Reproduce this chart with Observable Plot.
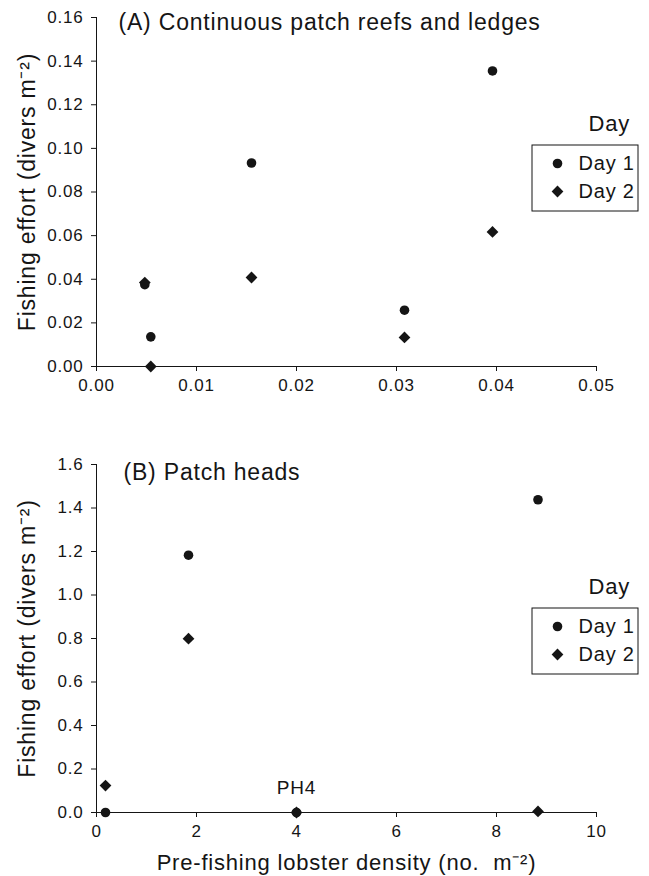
<!DOCTYPE html>
<html><head><meta charset="utf-8">
<script src="https://cdn.jsdelivr.net/npm/d3@7"></script>
<script src="https://cdn.jsdelivr.net/npm/@observablehq/plot@0.6"></script>
<style>
body{margin:0;background:#fff;}
#chart{width:649px;}
#chart svg{display:block;overflow:visible;}
</style></head><body><div id="chart"></div>
<script>
// ---- data ----
const days = ["Day 1", "Day 2"];
const densityA = [0.00483, 0.00543, 0.0155, 0.0308, 0.0396];
const effortA_day1 = [0.0375, 0.0136, 0.0933, 0.0258, 0.1355];
const effortA_day2 = [0.0385, 0.0, 0.0408, 0.0133, 0.0617];
const densityB = [0.18, 1.84, 4.0, 8.83];
const effortB_day1 = [0.0, 1.183, 0.0, 1.438];
const effortB_day2 = [0.124, 0.799, 0.0, 0.005];
const ticksA_x = [0, 0.01, 0.02, 0.03, 0.04, 0.05];
const ticksA_y = [0, 0.02, 0.04, 0.06, 0.08, 0.10, 0.12, 0.14, 0.16];
const ticksB_x = [0, 2, 4, 6, 8, 10];
const ticksB_y = [0, 0.2, 0.4, 0.6, 0.8, 1.0, 1.2, 1.4, 1.6];
const annotB = [{x: 4, y: 0, label: "PH4"}];
const titleA = "(A) Continuous patch reefs and ledges";
const titleB = "(B) Patch heads";
const yLabel = "Fishing effort (divers m\u207B\u00B2)";
const xLabelB = "Pre-fishing lobster density (no.  m\u207B\u00B2)";

function rows(xs, d1, d2) {
  const out = [];
  xs.forEach((x, i) => out.push({x, y: d1[i], day: days[0]}));
  xs.forEach((x, i) => out.push({x, y: d2[i], day: days[1]}));
  return out;
}

const FONT = "'Liberation Sans', Arial, Helvetica, sans-serif";
const INK = "#151515";
const R = {"Day 1": 4.8, "Day 2": 5.3};

function panel(o) {
  const legendMarks = [
    Plot.text(["Day"], {frameAnchor: "top-left", dx: 492, dy: o.legTop - 22, text: d => d, lineAnchor: "middle", fontSize: 22, fill: INK}),
    ...days.map((d, i) => Plot.dot([d], {frameAnchor: "top-left", dx: 461, dy: o.legTop + 18 + i * 28, symbol: v => v, fill: INK, r: R[d]})),
    ...days.map((d, i) => Plot.text([d], {frameAnchor: "top-left", dx: 482, dy: o.legTop + 18 + i * 28, text: v => v, textAnchor: "start", lineAnchor: "middle", fontSize: 20, fill: INK}))
  ];
  const svg = Plot.plot({
    width: 649,
    height: o.height,
    marginLeft: 96,
    marginRight: 53,
    marginTop: o.marginTop,
    marginBottom: o.marginBottom,
    style: {fontFamily: FONT, fontSize: "17px", color: INK, background: "white", overflow: "visible", letterSpacing: "0.8px"},
    x: {domain: o.xDomain},
    y: {domain: o.yDomain},
    symbol: {domain: days, range: ["circle", "diamond2"]},
    marks: [
      Plot.axisX({ticks: o.xTicks, tickFormat: o.xFormat, tickSize: 5, tickPadding: 7, label: null}),
      Plot.axisY({ticks: o.yTicks, tickFormat: o.yFormat, tickSize: 5, tickPadding: 8, label: null}),
      Plot.ruleY([o.yDomain[0]], {stroke: INK}),
      Plot.ruleX([o.xDomain[0]], {stroke: INK}),
      ...days.map(d => Plot.dot(o.data.filter(r => r.day === d), {x: "x", y: "y", symbol: "day", fill: INK, r: R[d]})),
      Plot.text([o.title], {frameAnchor: "top-left", dx: o.titleDx, dy: o.titleDy, text: d => d, textAnchor: "start", lineAnchor: "middle", fontSize: 23, fill: INK}),
      Plot.text([yLabel], {frameAnchor: "left", rotate: -90, dx: -69, text: d => d, textAnchor: "middle", lineAnchor: "middle", fontSize: 23, fill: INK}),
      ...(o.xLabel ? [Plot.text([o.xLabel], {frameAnchor: "bottom", dy: 50, text: d => d, textAnchor: "middle", lineAnchor: "middle", fontSize: 22, fill: INK})] : []),
      ...(o.annot ? [Plot.text(o.annot, {x: "x", y: "y", text: "label", dy: -25, fontSize: 19, fill: INK})] : []),
      ...legendMarks
    ]
  });
  d3.select(svg).selectAll('g[aria-label="x-axis tick label"], g[aria-label="y-axis tick label"]')
    .attr("font-size", 17).style("font-size", "17px");
  // legend box
  d3.select(svg).append("rect")
    .attr("x", 532).attr("y", o.marginTop + o.legTop)
    .attr("width", 106).attr("height", 66)
    .attr("fill", "none").attr("stroke", INK).attr("stroke-width", 1);
  return svg;
}

const chart = document.getElementById("chart");
chart.append(panel({
  height: 420, marginTop: 17, marginBottom: 54,
  xDomain: [0, 0.05], yDomain: [0, 0.16],
  xTicks: ticksA_x, yTicks: ticksA_y,
  xFormat: d3.format(".2f"), yFormat: d3.format(".2f"),
  data: rows(densityA, effortA_day1, effortA_day2),
  title: titleA, titleDx: 22, titleDy: 5,
  legTop: 128
}));
chart.append(panel({
  height: 456, marginTop: 44, marginBottom: 64,
  xDomain: [0, 10], yDomain: [0, 1.6],
  xTicks: ticksB_x, yTicks: ticksB_y,
  xFormat: d3.format("d"), yFormat: d3.format(".1f"),
  data: rows(densityB, effortB_day1, effortB_day2),
  title: titleB, titleDx: 27, titleDy: 8,
  xLabel: xLabelB, annot: annotB,
  legTop: 144
}));
</script></body></html>
